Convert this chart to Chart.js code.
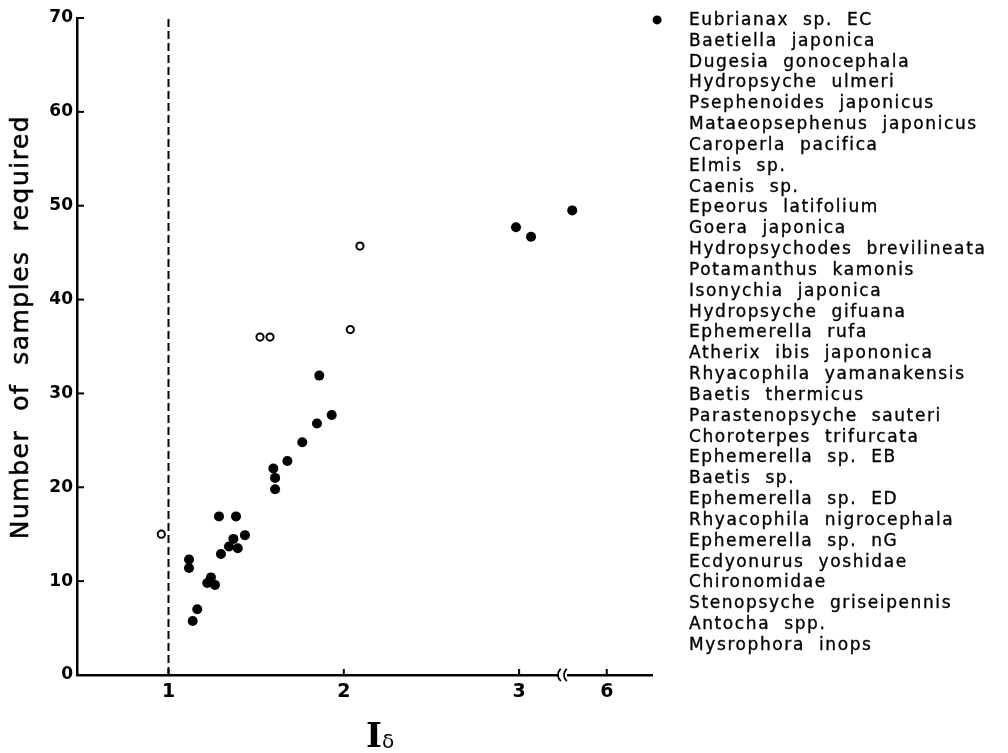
<!DOCTYPE html>
<html><head><meta charset="utf-8">
<script src="https://cdn.jsdelivr.net/npm/chart.js@4"></script>
<style>
html,body{margin:0;padding:0;background:#fff;}
#wrap{position:relative;width:1008px;height:753px;overflow:hidden;}
canvas{position:absolute;left:0;top:0;}
#legend{position:absolute;left:689px;top:9px;font:17px "DejaVu Sans";letter-spacing:1.6px;word-spacing:7px;line-height:20.83px;white-space:pre;color:#000;-webkit-text-stroke:0.35px #000;}
</style></head><body>
<div id="wrap"><canvas id="c" width="1008" height="753"></canvas><div id="legend"></div></div>
<script>
// Species listed at right (order as in the figure)
const species = [
  "Eubrianax sp. EC", "Baetiella japonica", "Dugesia gonocephala", "Hydropsyche ulmeri",
  "Psephenoides japonicus", "Mataeopsephenus japonicus", "Caroperla pacifica", "Elmis sp.",
  "Caenis sp.", "Epeorus latifolium", "Goera japonica", "Hydropsychodes brevilineata",
  "Potamanthus kamonis", "Isonychia japonica", "Hydropsyche gifuana", "Ephemerella rufa",
  "Atherix ibis japononica", "Rhyacophila yamanakensis", "Baetis thermicus",
  "Parastenopsyche sauteri", "Choroterpes trifurcata", "Ephemerella sp. EB", "Baetis sp.",
  "Ephemerella sp. ED", "Rhyacophila nigrocephala", "Ephemerella sp. nG", "Ecdyonurus yoshidae",
  "Chironomidae", "Stenopsyche griseipennis", "Antocha spp.", "Mysrophora inops"
];
// x values are positions along the (broken) I-delta axis; 3.5 on the axis is labelled 6
const filledX = [1.117, 1.117, 1.138, 1.164, 1.221, 1.242, 1.265, 1.288, 1.299, 1.345, 1.370, 1.385, 1.395, 1.436,
                 1.598, 1.608, 1.608, 1.678, 1.763, 1.847, 1.860, 1.931, 2.982, 3.068, 3.303];
const filledY = [12.3, 11.4, 5.75, 7.0, 9.8, 10.4, 9.6, 16.9, 12.9, 13.7, 14.5, 16.9, 13.5, 14.9,
                 22.0, 21.0, 19.8, 22.8, 24.8, 26.8, 31.9, 27.7, 47.7, 46.7, 49.5];
const openX = [0.959, 1.522, 1.579, 2.037, 2.092];
const openY = [15.0, 36.0, 36.0, 36.8, 45.7];
// point beyond the plotted range (top right, beside the species list)
const offX = [3.787];
const offY = [69.8];
const xTickPos = [1, 2, 3, 3.5];
const xTickLabels = ["1", "2", "3", "6"];
const yTicks = [0, 10, 20, 30, 40, 50, 60, 70];
const breakPos = 3.25;
const thresholdX = 1;

document.getElementById('legend').textContent = species.join("\n");

const pts = (xs, ys) => xs.map((x, i) => ({x: x, y: ys[i]}));

const extras = {
  id: 'extras',
  afterDraw(chart) {
    const ctx = chart.ctx, xs = chart.scales.x, ys = chart.scales.y, a = chart.chartArea;
    ctx.save();
    ctx.strokeStyle = '#000'; ctx.lineWidth = 2;
    // inward ticks
    yTicks.forEach(v => { if (v === 0) return; const p = ys.getPixelForValue(v);
      ctx.beginPath(); ctx.moveTo(a.left, p); ctx.lineTo(a.left + 7, p); ctx.stroke(); });
    xTickPos.forEach(v => { const p = xs.getPixelForValue(v);
      ctx.beginPath(); ctx.moveTo(p, a.bottom); ctx.lineTo(p, a.bottom - 6); ctx.stroke(); });
    // axis break
    const bp = xs.getPixelForValue(breakPos);
    ctx.fillStyle = '#fff'; ctx.fillRect(bp - 4, a.bottom - 3, 8, 6);
    ctx.lineWidth = 1.8;
    [-3, 3].forEach(d => { ctx.beginPath(); ctx.arc(bp + d + 6, a.bottom, 8, Math.PI * 0.72, Math.PI * 1.28); ctx.stroke(); });
    // off-range point(s)
    ctx.fillStyle = '#000';
    offX.forEach((x, i) => { ctx.beginPath();
      ctx.arc(xs.getPixelForValue(x), ys.getPixelForValue(offY[i]), 4.5, 0, Math.PI * 2); ctx.fill(); });
    // x title
    ctx.textBaseline = 'alphabetic';
    ctx.font = 'bold 34px "DejaVu Serif"'; ctx.textAlign = 'left';
    ctx.fillText('I', 366, 747);
    ctx.font = '20px "DejaVu Sans"';
    ctx.fillText('δ', 382, 748);
    // y title
    ctx.translate(21, 327);
    ctx.rotate(-Math.PI / 2);
    ctx.font = '25px "DejaVu Sans"';
    ctx.letterSpacing = '1.5px';
    ctx.textAlign = 'center'; ctx.textBaseline = 'middle';
    ctx.lineWidth = 0.5; 
    ctx.fillText('Number  of  samples  required', 0, 0);
    ctx.strokeText('Number  of  samples  required', 0, 0);
    ctx.restore();
  }
};

new Chart(document.getElementById('c'), {
  type: 'scatter',
  data: {
    datasets: [
      { data: pts(filledX, filledY), pointRadius: 5, pointHoverRadius: 5, backgroundColor: '#000', borderWidth: 0 },
      { data: pts(openX, openY), pointRadius: 3.6, pointHoverRadius: 3.6, backgroundColor: '#fff', borderColor: '#000', borderWidth: 2 },
      { type: 'line', data: [{x: thresholdX, y: 0}, {x: thresholdX, y: 70}], borderColor: '#000', borderWidth: 2,
        borderDash: [8, 4], pointRadius: 0, fill: false }
    ]
  },
  options: {
    responsive: false, animation: false, devicePixelRatio: 1,
    layout: { padding: { top: 18, right: 356, left: 0, bottom: 0 } },
    plugins: { legend: { display: false }, tooltip: { enabled: false } },
    scales: {
      x: {
        type: 'linear', min: 0.478, max: 3.758,
        grid: { display: false, drawTicks: false },
        border: { display: true, color: '#000', width: 2.5 },
        afterBuildTicks: s => { s.ticks = xTickPos.map(v => ({value: v})); },
        afterFit: s => { s.height = 78; },
        ticks: { color: '#000', padding: 6, font: { family: 'DejaVu Sans', size: 19, weight: 'bold' },
          callback: v => { const i = xTickPos.indexOf(v); return i >= 0 ? xTickLabels[i] : ''; } }
      },
      y: {
        type: 'linear', min: 0, max: 70,
        grid: { display: false, drawTicks: false },
        border: { display: true, color: '#000', width: 2.5 },
        afterBuildTicks: s => { s.ticks = yTicks.map(v => ({value: v})); },
        afterFit: s => { s.width = 77; },
        ticks: { color: '#000', padding: 4, font: { family: 'DejaVu Sans', size: 17, weight: 'bold' } }
      }
    }
  },
  plugins: [extras]
});
</script>
</body></html>
